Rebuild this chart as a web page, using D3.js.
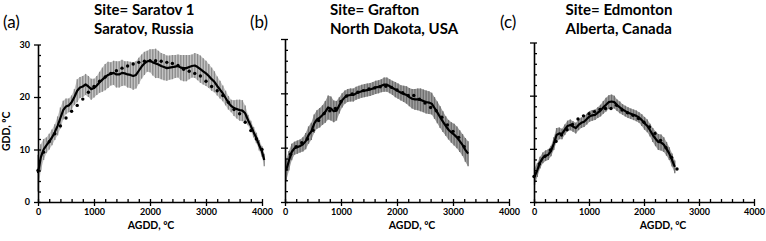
<!DOCTYPE html>
<html><head><meta charset="utf-8">
<script src="https://cdn.jsdelivr.net/npm/d3@7"></script>
<style>body{margin:0;background:#fff} svg{display:block}</style>
</head><body><svg id="c" width="766" height="241"></svg>
<script>
// ---------- Panel (a) Saratov ----------
const xA = [0,50,100,150,200,250,300,350,400,450,500,550,600,650,700,750,800,850,900,950,1000,1050,1100,1150,1200,1250,1300,1350,1400,1450,1500,1550,1600,1650,1700,1750,1800,1850,1900,1950,2000,2050,2100,2150,2200,2250,2300,2350,2400,2450,2500,2550,2600,2650,2700,2750,2800,2850,2900,2950,3000,3050,3100,3150,3200,3250,3300,3350,3400,3450,3500,3550,3600,3650,3700,3750,3800,3850,3900,3950,4000,4040];
const meanA = [5.5,8.5,10,10.8,11.5,12.3,13.3,14.5,16,17.5,18.2,18.4,19,20,21.2,21.8,22,22.4,22,21.5,21.7,22.2,22.8,23.3,23.8,24.2,24.4,24.6,24.3,24.3,24.6,24.5,24.3,24.2,24,24.2,25,25.8,26.4,26.8,26.9,26.6,26.4,26.2,25.9,25.7,25.5,25.6,25.7,25.8,25.9,25.6,25.5,25.5,25.7,25.9,26,25.7,25.3,24.9,24.5,24,23.4,22.9,22.1,21.4,20.7,19.8,18.9,18.3,17.9,17.7,17.5,17.4,16.9,15.6,14.5,13.3,12.2,10.8,9.6,8];
const errA = [3.5,2.5,2,1.5,1.5,1.5,1.5,1.8,2,1.8,1.5,1.3,1.3,1.5,2.2,2,2,2,2,2,1.8,1.8,2,2.3,2.5,2.5,2.2,2.3,2.5,2.5,2.5,2.3,2.5,2.5,2.6,2.6,2.5,2.3,2.2,2,2.2,2.5,2.8,2.6,2.5,2.5,2.4,2.3,2.3,2.2,2.2,2.4,2.5,2.5,2.3,2.2,2.4,2.5,2.6,2.5,2.4,2.3,2.2,2,1.8,1.7,1.5,1.4,1.3,1.2,1.5,1.8,2,2,1.5,1,1,1,1,1,1,1.2];
const dotXA = [0,100,200,300,400,500,600,700,800,900,1000,1100,1200,1300,1400,1500,1600,1700,1800,1900,2000,2100,2200,2300,2400,2500,2600,2700,2800,2900,3000,3100,3200,3300,3400,3500,3600,3700,3800,3900,4000];
const dotYA = [6,9.5,11.5,13,14.5,16,17.3,18.4,19.6,20.9,22,23,23.8,24.5,25,25.5,25.9,26.3,26.6,26.8,26.9,26.9,26.8,26.6,26.4,26,25.3,24.9,24.5,24,23,22,21.2,20.3,19,17.6,16.8,15.2,13.6,12,10];

// ---------- Panel (b) Grafton ----------
const xB = [20,70,120,170,220,270,320,370,420,470,520,570,620,670,720,770,820,870,920,970,1020,1070,1120,1170,1220,1270,1320,1370,1420,1470,1520,1570,1620,1670,1720,1770,1820,1870,1920,1970,2020,2070,2120,2170,2220,2270,2320,2370,2420,2470,2520,2570,2620,2670,2720,2770,2820,2870,2920,2970,3020,3070,3120,3170,3220,3270];
const meanB = [5.8,7.6,9.2,9.9,10.1,10.3,10.6,11.2,12.3,13,14.4,15.2,15.5,16,16.6,17.4,17.2,16.7,16.8,17.8,18.7,19.3,19.6,19.7,19.7,20,20.2,20.4,20.5,20.6,20.7,20.9,21.1,21.2,21.4,21.6,21.6,21.3,21,20.7,20.4,20.1,19.9,19.7,19.3,19,18.9,18.9,18.8,18.6,18.4,18.3,18.1,17.3,16.5,15.6,14.8,14,13.3,12.8,12.4,11.9,11.2,10.5,9.6,8.9];
const errB = [2,1.8,1.5,1.2,1.2,1.2,1.3,1.5,1.6,1.6,1.7,1.7,1.8,1.8,2,2.2,2.2,2,1.8,1.5,1.3,1.2,1.2,1.2,1.2,1.2,1.2,1.2,1.2,1.2,1.2,1.2,1.2,1.2,1.2,1.3,1.3,1.3,1.3,1.4,1.4,1.4,1.5,1.6,1.7,1.8,1.9,2,2.1,2.1,2.1,2.1,2,2,2,2,1.9,1.8,1.8,1.9,2,2,2,2,2.2,2.3];
const dotXB = [100,200,300,400,500,600,700,800,900,1000,1100,1200,1300,1400,1500,1600,1700,1800,1900,2000,2100,2200,2300,2400,2500,2600,2700,2800,2900,3000,3100,3200];
const dotYB = [8.8,10.2,10.9,11.6,13.2,15,16.3,16.8,17.2,18.5,19.5,19.9,20.2,20.5,20.8,21,21.2,21.3,21.1,20.6,20.1,19.6,19.6,18.9,18.2,17.4,16.8,15.6,14.2,13,11.9,10.2];

// ---------- Panel (c) Edmonton ----------
const xC = [10,60,110,160,210,260,310,360,410,460,510,560,610,660,710,760,810,860,910,960,1010,1060,1110,1160,1210,1260,1310,1360,1410,1460,1510,1560,1610,1660,1710,1760,1810,1860,1910,1960,2010,2060,2110,2160,2210,2260,2310,2360,2410,2460,2510,2560];
const meanC = [4.8,6,7.4,8.3,8.7,8.9,9.6,11,12.6,12.9,12.8,13.6,14.3,14.5,14.2,13.9,14.5,14.9,15.1,15.6,16.1,16.3,16.4,16.8,17.2,17.8,18.3,18.8,18.9,18.8,18.2,17.8,17.4,17.1,16.8,16.6,16.4,16.2,15.9,15.4,14.8,14.3,13.5,12.6,11.9,11.3,11.2,10.8,10,9.1,7.9,6.6];
const errC = [1.6,1.3,1.1,1,1,1,1,1.2,1.3,1.1,1,1,1,1,1,1,1,1,1,1,1,1,1,1,1.1,1.2,1.3,1.3,1.3,1.2,1.1,1.1,1,1,1,1,1,1,1,1.1,1.2,1.2,1.2,1.3,1.4,1.5,1.5,1.4,1.3,1.2,1.2,1.2];
const dotXC = [0,100,200,300,400,500,600,700,800,900,1000,1100,1200,1300,1400,1500,1600,1700,1800,1900,2000,2100,2200,2300,2400,2500,2600];
const dotYC = [4.8,7.2,8.6,9.8,11.4,12.6,13.6,14.6,15.6,16.2,16.6,17,17.4,17.6,17.6,18.2,17.3,16.8,16.3,15.7,15,14.1,12.9,11.6,10.2,8.4,6.2];

// ---------- Text & ticks ----------
const titleLine1 = ["Site= Saratov 1", "Site= Grafton", "Site= Edmonton"];
const titleLine2 = ["Saratov, Russia", "North Dakota, USA", "Alberta, Canada"];
const panelLetters = ["(a)", "(b)", "(c)"];
const xTickValues = [0, 1000, 2000, 3000, 4000];
const yTickValues = [0, 10, 20, 30];
const xMinorTicks = [0,200,400,600,800,1000,1200,1400,1600,1800,2000,2200,2400,2600,2800,3000,3200,3400,3600,3800,4000];
const yMinorTicks = [0,2,4,6,8,10,12,14,16,18,20,22,24,26,28,30];
const xTitle = "AGDD, ºC";
const yTitle = "GDD, ºC";

const series = [
  {x: xA, m: meanA, e: errA, dx: dotXA, dy: dotYA},
  {x: xB, m: meanB, e: errB, dx: dotXB, dy: dotYB},
  {x: xC, m: meanC, e: errC, dx: dotXC, dy: dotYC}
];
const layout = [
  {xr: [38, 262], yr: [202, 44.5], yLabels: true, titleX: 94, letterX: 3, xTitleX: 151, band: "#c4c4c4", bar: "#8a8a8a"},
  {xr: [285, 509], yr: [202, 39], yLabels: false, titleX: 330, letterX: 250, xTitleX: 412, band: "#9e9e9e", bar: "#6f6f6f"},
  {xr: [534, 754], yr: [202, 42.5], yLabels: false, titleX: 565.5, letterX: 500, xTitleX: 663, band: "#9e9e9e", bar: "#6f6f6f"}
];

const svg = d3.select("#c");
const FONT = "Lato, 'Open Sans', sans-serif";

layout.forEach((L, i) => {
  const S = series[i];
  const x = d3.scaleLinear().domain([0, 4000]).range(L.xr);
  const y = d3.scaleLinear().domain([0, 30]).range(L.yr);
  const g = svg.append("g");
  const pts = S.x.map((v, k) => ({x: v, m: S.m[k], e: S.e[k]}));

  // error band
  g.append("path").datum(pts)
    .attr("d", d3.area().x(d => x(d.x)).y0(d => y(d.m - d.e)).y1(d => y(d.m + d.e)))
    .attr("fill", L.band);
  g.selectAll("line.eb").data(pts).join("line").attr("class", "eb")
    .attr("x1", d => x(d.x)).attr("x2", d => x(d.x))
    .attr("y1", d => y(d.m - d.e)).attr("y2", d => y(d.m + d.e))
    .attr("stroke", L.bar).attr("stroke-width", 1.3);
  // mean line
  g.append("path").datum(pts)
    .attr("d", d3.line().x(d => x(d.x)).y(d => y(d.m)))
    .attr("fill", "none").attr("stroke", "#000").attr("stroke-width", 2.2).attr("stroke-linejoin", "round");
  // dots
  g.selectAll("circle").data(S.dx.map((v, k) => [v, S.dy[k]])).join("circle")
    .attr("cx", d => x(d[0])).attr("cy", d => y(d[1])).attr("r", 1.7).attr("fill", "#000");

  // axes
  const y0 = L.yr[0];
  g.append("g").attr("transform", `translate(0,${y0})`)
    .call(d3.axisBottom(x).tickValues(xTickValues).tickSize(4).tickSizeOuter(0).tickPadding(3).tickFormat(d3.format("d")));
  g.append("g").attr("transform", `translate(0,${y0})`)
    .call(d3.axisTop(x).tickValues(xMinorTicks).tickSize(3).tickSizeOuter(0).tickFormat(""))
    .select(".domain").remove();
  g.append("g").attr("transform", `translate(${L.xr[0]},0)`)
    .call(d3.axisLeft(y).tickValues(yTickValues).tickSize(4).tickSizeOuter(0).tickPadding(4)
      .tickFormat(L.yLabels ? d3.format("d") : ""));
  g.append("g").attr("transform", `translate(${L.xr[0]},0)`)
    .call(d3.axisRight(y).tickValues(yMinorTicks).tickSize(3).tickSizeOuter(0).tickFormat(""))
    .select(".domain").remove();
  g.selectAll(".domain").attr("stroke", "#000").attr("stroke-width", 1.6);
  g.selectAll(".tick line").attr("stroke", "#000").attr("stroke-width", 1.3);
  g.selectAll(".tick text").attr("font-family", FONT).attr("font-weight", "bold").attr("font-size", 9).attr("fill", "#000");

  // x title
  g.append("text").attr("x", L.xTitleX).attr("y", 229).attr("text-anchor", "middle")
    .attr("font-family", FONT).attr("font-weight", "bold").attr("font-size", 10.5).text(xTitle);
  // titles
  g.append("text").attr("x", L.titleX).attr("y", 15).attr("font-family", FONT).attr("font-weight", "bold")
    .attr("font-size", 15).text(titleLine1[i]);
  g.append("text").attr("x", L.titleX).attr("y", 34).attr("font-family", FONT).attr("font-weight", "bold")
    .attr("font-size", 15).text(titleLine2[i]);
  g.append("text").attr("x", L.letterX).attr("y", 28).attr("font-family", FONT)
    .attr("font-size", 17).text(panelLetters[i]);
  if (L.yLabels) {
    g.append("text").attr("transform", `translate(10,${(L.yr[0] + L.yr[1]) / 2 + 8}) rotate(-90)`)
      .attr("text-anchor", "middle").attr("font-family", FONT).attr("font-weight", "bold")
      .attr("font-size", 10.5).text(yTitle);
  }
});
</script>
</body></html>
